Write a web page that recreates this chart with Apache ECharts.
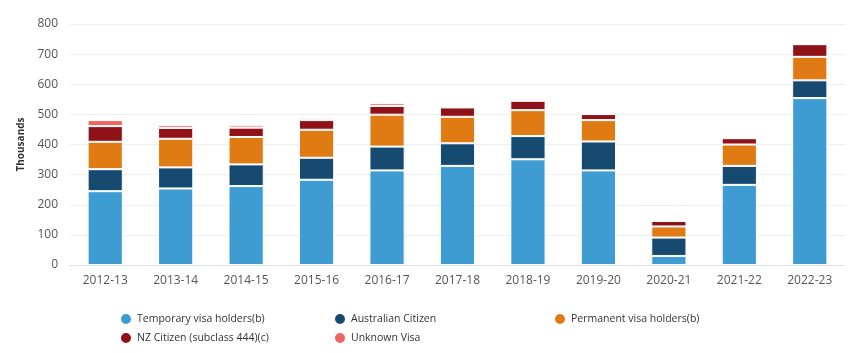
<!DOCTYPE html>
<html><head><meta charset="utf-8">
<script src="https://cdn.jsdelivr.net/npm/echarts@6/dist/echarts.min.js"></script>
<style>html,body{margin:0;padding:0;background:#fff}#c{width:853px;height:353px}</style>
</head><body><div id="c"></div>
<script>
const categories = ['2012-13','2013-14','2014-15','2015-16','2016-17','2017-18','2018-19','2019-20','2020-21','2021-22','2022-23'];
const temporary = [245,254,262,283,314,329,351,314,30,266,554];
const australian = [73,70,72,73,79,75,77,96,61,63,59];
const permanent = [91,95,91,93,106,88,86,71,37,71,78];
const nzCitizen = [52,36,31,32,29,31,31,20,18,21,42];
const unknownVisa = [20,9,8,6,9,4,5,1,0,1,1];
const yTicks = [0,100,200,300,400,500,600,700,800];

const names = ['Temporary visa holders(b)','Australian Citizen','Permanent visa holders(b)','NZ Citizen (subclass 444)(c)','Unknown Visa'];
const colors = ['#3f9cd2','#164a70','#e07b14','#8e1218','#f26363'];
const datas = [temporary, australian, permanent, nzCitizen, unknownVisa];
const font = '"Open Sans", "Noto Sans", sans-serif';

const chart = echarts.init(document.getElementById('c'));
const legendBase = {
  orient:'vertical', icon:'circle', itemWidth:12, itemHeight:12, itemGap:5,
  textStyle:{fontFamily:font, fontSize:10.5, color:'#333'}, selectedMode:false
};
chart.setOption({
  animation:false,
  grid:{left:70, right:8, top:24, bottom:88},
  legend:[
    Object.assign({}, legendBase, {left:114, top:307, data:[names[0], names[3]]}),
    Object.assign({}, legendBase, {left:328, top:307, data:[names[1], names[4]]}),
    Object.assign({}, legendBase, {left:548, top:307, data:[names[2]]})
  ],
  xAxis:{
    type:'category', data:categories,
    axisTick:{show:false},
    axisLine:{lineStyle:{color:'#dde3ea'}},
    axisLabel:{color:'#555', fontFamily:font, fontSize:12, margin:10}
  },
  yAxis:{
    type:'value', min:yTicks[0], max:yTicks[yTicks.length-1], interval:100,
    name:'Thousands', nameLocation:'middle', nameGap:42,
    nameTextStyle:{fontFamily:font, fontSize:10, color:'#333', fontWeight:'bold'},
    axisLabel:{color:'#555', fontFamily:font, fontSize:12, margin:12},
    splitLine:{lineStyle:{color:'#eceef2'}}
  },
  series: names.map((n,i)=>({
    name:n, type:'bar', stack:'total', data:datas[i], barWidth:'50%',
    itemStyle:{color:colors[i], borderColor:'#fff', borderWidth:1}
  }))
});
</script></body></html>
